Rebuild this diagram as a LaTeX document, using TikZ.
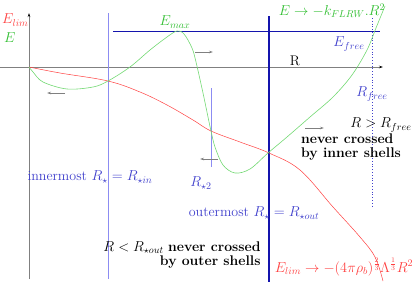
\documentclass[tikz,border=0pt]{standalone}
\usetikzlibrary{arrows.meta}
\definecolor{cred}{rgb}{1,0.25,0.25}
\definecolor{cgreen}{rgb}{0.2,0.75,0.2}
\definecolor{cgreenl}{rgb}{0.45,0.85,0.45}
\definecolor{cblue}{rgb}{0.25,0.25,0.8}
\definecolor{cbluel}{rgb}{0.55,0.55,0.95}
\definecolor{cnavy}{rgb}{0.08,0.08,0.68}
\begin{document}
\begin{tikzpicture}[x=1pt,y=-1pt,
  lbl/.style={inner sep=0pt,font=\fontsize{14}{13.5}\selectfont},
  axis/.style={draw=gray,line width=0.6pt},
  motion/.style={draw=gray,line width=0.6pt,-{Stealth[length=4pt,width=2.5pt]}},
  thinblue/.style={draw=cbluel,line width=0.6pt}]
\useasboundingbox (0,0) rectangle (415,284);
% axes
\draw[axis,-{Stealth[length=4pt,width=2.5pt,black]}] (29,279) -- (29,13);
\draw[axis,-{Stealth[length=4pt,width=2.5pt,black]}] (0,67) -- (383,67);
% vertical lines
\draw[thinblue] (108,13) -- (108,279);
\draw[thinblue] (211,88) -- (211,167);
\draw[draw=cnavy,line width=1.6pt] (269,16) -- (269,282);
\draw[draw=cnavy,line width=1.2pt] (113,31.5) -- (380,31.5);
\draw[draw=cblue,line width=0.8pt,dotted] (372,18) -- (372,207);
% curves
\draw[cred,line width=0.5pt] plot[smooth,tension=0.6] coordinates{(29,67) (60,73) (108,81) (140,92) (167,105) (193,120) (211,131) (240,142) (269,153) (300,170) (333,207) (360,237) (375,257) (383,281)};
\draw[cgreenl,line width=0.6pt] plot[smooth,tension=0.55] coordinates{(29,67) (33,72) (43,82) (67,89) (93,87) (108,81) (130,67) (150,50) (167,37) (177,31) (184,34) (192,48) (196,62) (203,93) (208,117) (211,131) (215,147) (223,165) (235,173) (250,169) (268,153) (287,137) (310,117) (333,97) (352,75) (367,50) (376,28) (385,6)};
% motion arrows
\draw[motion] (65,93) -- (47,93);
\draw[motion] (195,52) -- (213,52);
\draw[motion] (218,159) -- (200,159);
\draw[motion] (305,128) -- (324,128);
% labels
\node[lbl,text=cred,anchor=west] (elim) at (2,20) {$E_{lim}$};
\node[lbl,text=cgreen,anchor=west] (e) at (4,38) {$E$};
\node[lbl,text=cgreen] (emax) at (175,22) {$E_{max}$};
\node[lbl,text=cgreen] (easym) at (332,11) {$E\rightarrow -k_{FLRW}.R^2$};
\node[lbl,text=cblue] (efree) at (349,44) {$E_{free}$};
\node[lbl] (r) at (295,61) {R};
\node[lbl,text=cblue] (rfree) at (372,94) {$R_{free}$};
\node[lbl] (rgt) at (381,125) {$R>R_{free}$};
\node[lbl,align=left,font=\fontsize{14}{13.5}\selectfont\bfseries] (inner) at (351,147) {never crossed\\by inner shells};
\node[lbl,text=cblue] (innermost) at (90,177) {innermost $R_\star=R_{\star in}$};
\node[lbl,text=cblue] (r2) at (201,183) {$R_{\star2}$};
\node[lbl,text=cblue] (outermost) at (254,213) {outermost $R_\star=R_{\star out}$};
\node[lbl,align=right] (outer) at (182,255) {$R<R_{\star out}$ \textbf{never crossed}\\\textbf{by outer shells}};
\node[lbl,text=cred] (elimasym) at (344,267) {$E_{lim}\rightarrow-(4\pi\rho_b)^{\frac{2}{3}}\Lambda^{\frac{1}{3}}R^2$};
\end{tikzpicture}
\end{document}
